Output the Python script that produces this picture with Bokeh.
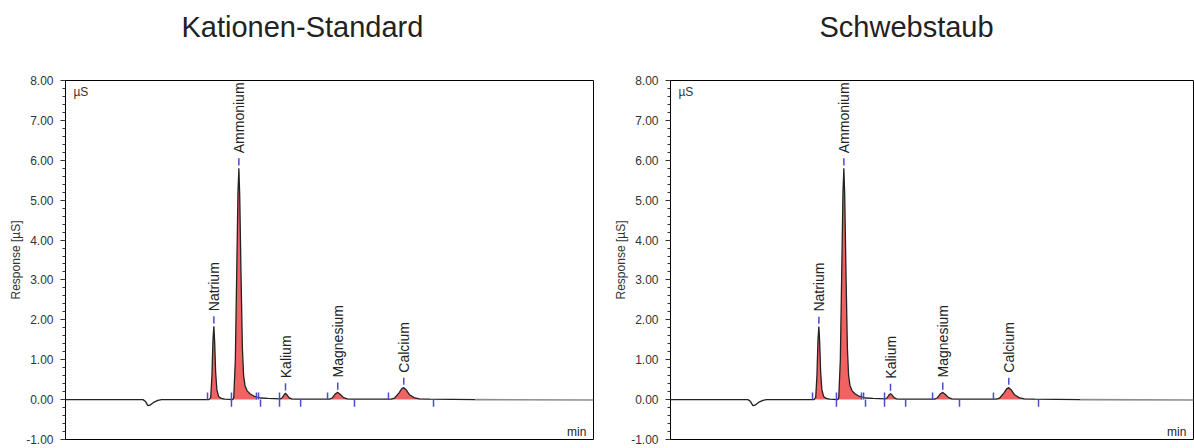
import numpy as np
from bokeh.plotting import figure
from bokeh.models import (Range1d, SingleIntervalTicker, NumeralTickFormatter, Label,
                          LinearAxis, FixedTicker, CustomJSTickFormatter)
from bokeh.layouts import row
from bokeh.embed import file_html
from bokeh.resources import INLINE
from bokeh.core.properties import value

# ---------------- data ----------------
panel_titles = ["Kationen-Standard", "Schwebstaub"]
y_label = "Response [µS]"
y_unit = "µS"
x_unit = "min"

# chromatogram trace: time [min], response [µS]
time_min = [0.0, 4.40, 4.55, 4.68, 4.80, 5.00, 5.25, 5.45,
            8.15, 8.25, 8.32, 8.38, 8.43, 8.48, 8.53, 8.60, 8.70, 8.85, 9.05,
            9.50, 9.56, 9.65, 9.74, 9.80, 9.85, 9.90, 9.97, 10.05, 10.12, 10.20,
            10.32, 10.50, 10.70, 10.90, 11.10, 11.50,
            12.20, 12.30, 12.42, 12.50, 12.58, 12.70, 12.85, 13.20,
            15.00, 15.15, 15.32, 15.47, 15.62, 15.80, 16.00, 16.40,
            18.50, 18.70, 18.95, 19.10, 19.22, 19.35, 19.55, 19.80, 20.10, 20.70, 23.30]
standard_us = [0.0, 0.0, -0.05, -0.15, -0.14, -0.07, -0.02, 0.0,
               0.0, 0.05, 0.60, 1.50, 1.84, 1.40, 0.70, 0.25, 0.08, 0.03, 0.01,
               0.0, 0.05, 1.00, 3.50, 5.20, 5.80, 5.10, 3.20, 1.30, 0.60, 0.35,
               0.22, 0.14, 0.09, 0.06, 0.04, 0.03,
               0.02, 0.04, 0.12, 0.16, 0.12, 0.05, 0.02, 0.01,
               0.01, 0.04, 0.14, 0.18, 0.13, 0.05, 0.02, 0.01,
               0.01, 0.04, 0.17, 0.27, 0.30, 0.25, 0.12, 0.05, 0.02, 0.01, 0.0]
sample_us = [0.0, 0.0, -0.05, -0.15, -0.14, -0.07, -0.02, 0.0,
             0.0, 0.05, 0.60, 1.50, 1.83, 1.40, 0.70, 0.25, 0.08, 0.03, 0.01,
             0.0, 0.05, 1.00, 3.50, 5.20, 5.80, 5.10, 3.20, 1.30, 0.60, 0.35,
             0.22, 0.14, 0.09, 0.06, 0.04, 0.03,
             0.02, 0.04, 0.12, 0.15, 0.12, 0.05, 0.02, 0.01,
             0.01, 0.04, 0.14, 0.18, 0.13, 0.05, 0.02, 0.01,
             0.01, 0.04, 0.17, 0.27, 0.30, 0.25, 0.12, 0.05, 0.02, 0.01, 0.0]
tail_time = [23.30, 30.0]
tail_us = [0.0, -0.01]

# identified peaks
peak_names = ["Natrium", "Ammonium", "Kalium", "Magnesium", "Calcium"]
peak_time = [8.43, 9.85, 12.50, 15.47, 19.22]
standard_peak_us = [1.84, 5.80, 0.16, 0.18, 0.30]
sample_peak_us = [1.83, 5.80, 0.15, 0.18, 0.30]

# integration windows (filled areas)
window_start = [8.07, 9.43, 12.16, 14.89, 18.35]
window_end = [9.43, 11.08, 13.36, 16.42, 20.91]

# integration boundary markers
marker_time = [8.07, 9.43, 10.85, 10.97, 11.08, 12.16, 13.36, 14.89, 16.42, 18.35, 20.91]
marker_kind = ["start", "both", "start", "start", "end", "both", "end", "start", "end", "start", "end"]

y_min, y_max = -1.0, 8.0
x_full = 30.0

# ---------------- styling ----------------
FONT = "Liberation Sans"
RED = "#F05A5A"
BLUE = "#4B4BD0"
TRACE = "#222222"
FRAME_W_REF = 528.0

kind_span = {"start": (0.0, 0.18), "both": (-0.18, 0.18), "end": (-0.18, 0.0)}


def make_panel(title, trace, peaks, width, b_left, b_right, frame_w, title_off):
    x_end = x_full * frame_w / FRAME_W_REF
    p = figure(width=width, height=448, output_backend="svg", toolbar_location=None,
               x_range=Range1d(0, x_end), y_range=Range1d(y_min, y_max),
               min_border_left=b_left, min_border_right=b_right,
               min_border_top=79, min_border_bottom=9)

    # hide the default bottom axis (its labels are cut off in the original)
    for a in p.below:
        a.visible = False

    # invisible spacer between the title and the plot box (one hidden tick, empty label)
    spacer = LinearAxis(ticker=FixedTicker(ticks=[x_end / 2]), axis_line_color=None,
                        major_tick_out=30, major_tick_in=0, minor_tick_out=0,
                        major_tick_line_color=None, minor_tick_line_color=None,
                        major_label_standoff=0,
                        formatter=CustomJSTickFormatter(code="return ''"))
    p.add_layout(spacer, "above")

    p.title.text = title
    p.title.align = "left"
    p.title.offset = title_off
    p.title.standoff = 16
    p.title.vertical_align = "bottom"
    p.title.text_font = FONT
    p.title.text_font_size = "29px"
    p.title.text_font_style = "normal"
    p.title.text_color = "#222222"

    p.xgrid.visible = False
    p.ygrid.visible = False
    p.outline_line_color = "black"
    p.outline_line_width = 1
    p.outline_line_alpha = 1
    p.border_fill_color = "white"
    p.background_fill_color = "white"

    ax = p.yaxis[0]
    ax.ticker = SingleIntervalTicker(interval=1, num_minor_ticks=5)
    ax.formatter = NumeralTickFormatter(format="0.00")
    ax.axis_label = y_label
    ax.axis_label_text_font = FONT
    ax.axis_label_text_font_size = "12px"
    ax.axis_label_text_font_style = "normal"
    ax.axis_label_text_color = "#333333"
    ax.axis_label_standoff = 0
    ax.major_label_text_font = FONT
    ax.major_label_text_font_size = "12px"
    ax.major_label_text_color = "#333333"
    ax.major_label_standoff = 7
    ax.major_tick_out = 5
    ax.major_tick_in = 0
    ax.minor_tick_out = 3
    ax.minor_tick_in = 0
    ax.axis_line_color = "black"
    ax.major_tick_line_color = "#333333"
    ax.minor_tick_line_color = "#333333"

    t = np.array(time_min)
    y = np.array(trace)
    for s, e in zip(window_start, window_end):
        m = (t >= s) & (t <= e)
        p.varea(x=t[m], y1=np.zeros(m.sum()), y2=y[m], fill_color=RED, fill_alpha=0.95)

    p.line(time_min, trace, line_color=TRACE, line_width=1.3)
    p.line(tail_time, tail_us, line_color="#8C8C8C", line_width=1.6)

    y0 = [kind_span[k][0] for k in marker_kind]
    y1 = [kind_span[k][1] for k in marker_kind]
    p.segment(x0=marker_time, x1=marker_time, y0=y0, y1=y1, line_color=BLUE, line_width=1.5)

    ph = np.array(peaks)
    p.segment(x0=peak_time, x1=peak_time, y0=ph + 0.07, y1=ph + 0.25, line_color=BLUE, line_width=1.5)
    p.text(x=peak_time, y=list(ph), text=peak_names, angle=np.pi / 2, y_offset=-15,
           text_align="left", text_baseline="middle", text_font=value(FONT),
           text_font_size="14px", text_color="#222222")

    p.add_layout(Label(x=0.45, y=7.72, text=y_unit, text_baseline="middle",
                       text_font=FONT, text_font_size="12px", text_color="#333333"))
    p.add_layout(Label(x=x_end - 0.4, y=y_min + 0.2, text=x_unit, text_align="right",
                       text_baseline="alphabetic",
                       text_font=FONT, text_font_size="12px", text_color="#222222"))
    return p


left = make_panel(panel_titles[0], standard_us, standard_peak_us, 605, 65, 12, 528, 116)
right = make_panel(panel_titles[1], sample_us, sample_peak_us, 589, 65, 1, 523, 149)

layout = row(left, right, spacing=0)
open("out.html", "w").write(file_html(layout, INLINE))
